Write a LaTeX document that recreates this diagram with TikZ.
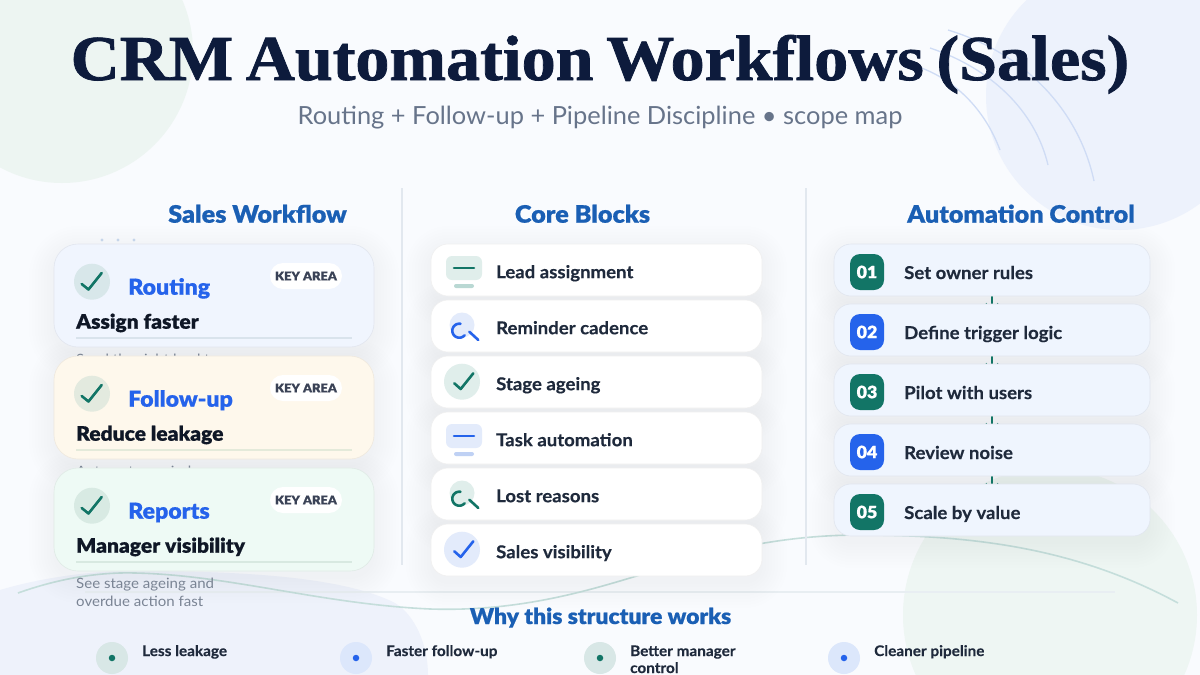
\documentclass[tikz,border=0pt]{standalone}
\usepackage{fontspec}
\setmainfont{Lato}[FakeStretch=1.017]
\newfontfamily\titlef[FakeStretch=1.063,FakeBold=1.2,WordSpace=0.75]{Liberation Serif Bold}
\newfontfamily\blackf[FakeStretch=1.05,FakeBold=.6]{Lato Black}
\newfontfamily\boldf[FakeStretch=1.05,FakeBold=.35]{Lato Bold}
\newfontfamily\descf[FakeStretch=1.06]{Lato}
\usetikzlibrary{arrows.meta,backgrounds}
\definecolor{bgc}{HTML}{F9FBFE}
\definecolor{tlc}{HTML}{EDF5F2}
\definecolor{trc}{HTML}{EDF2FC}
\definecolor{brc}{HTML}{EEF6F3}
\definecolor{blc}{HTML}{EEF2FB}
\definecolor{navy}{HTML}{0D1B3C}
\definecolor{subc}{HTML}{67748A}
\definecolor{headc}{HTML}{1A5FB4}
\definecolor{blu}{HTML}{2563EB}
\definecolor{grn}{HTML}{127566}
\definecolor{inkc}{HTML}{1F2A3C}
\definecolor{darkc}{HTML}{0F1726}
\definecolor{descc}{HTML}{7A8494}
\definecolor{pillc}{HTML}{3A4256}
\definecolor{shcol}{HTML}{1E3A6E}
\definecolor{lgrn}{HTML}{E0EEEB}
\definecolor{lblu}{HTML}{E3EBFB}
\definecolor{mgrn}{HTML}{B9D8D3}
\definecolor{mblu}{HTML}{BFD1F4}
\pgfdeclarelayer{shadowlayer}
\pgfdeclarelayer{connlayer}
\pgfsetlayers{shadowlayer,connlayer,main}
\tikzset{
 cardbox/.style={rectangle,inner sep=0pt,draw=#1!94!black,line width=.6pt,fill=#1},
 lcard/.style={cardbox=#1,minimum width=320pt,minimum height=103pt,rounded corners=24pt},
 mcard/.style={cardbox=white,minimum width=331pt,minimum height=52pt,rounded corners=17pt},
 rcard/.style={cardbox=#1,minimum width=316pt,minimum height=52pt,rounded corners=17pt},
 headtxt/.style={text=headc,font=\blackf\fontsize{24}{27}\selectfont,anchor=base,inner sep=0pt},
 lbl/.style={anchor=base west,inner sep=0pt},
 cattxt/.style={lbl,text=blu,font=\blackf\fontsize{22}{25}\selectfont},
 subtxt/.style={lbl,text=darkc,font=\blackf\fontsize{20}{23}\selectfont},
 desctxt/.style={lbl,text=descc,font=\descf\fontsize{14.2}{18}\selectfont},
 pill/.style={rectangle,rounded corners=13pt,fill=white,minimum width=72pt,minimum height=26pt,inner sep=0pt,text=pillc,font=\blackf\fontsize{12.2}{14}\selectfont},
 midtxt/.style={lbl,text=inkc,font=\boldf\fontsize{17.7}{20}\selectfont},
 badge/.style={rectangle,rounded corners=10pt,minimum width=34pt,minimum height=36pt,inner sep=0pt,text=white,font=\blackf\fontsize{17}{18}\selectfont},
 foot/.style={lbl,text=inkc,font=\boldf\fontsize{14.6}{17}\selectfont},
 disc/.style={circle,inner sep=0pt,minimum size=#1},
 tick/.style={line width=2.6pt,line cap=round,line join=round,draw=#1},
 dbar/.style={line width=2.6pt,line cap=round,draw=#1},
 link/.style={draw=grn,line width=2pt,-{Straight Barb[length=8pt,width=12pt,line width=.8pt]}},
}
\newcommand\softsh[5]{%
 \begin{pgfonlayer}{shadowlayer}
 \foreach \e in {1,4,...,25}{%
  \pgfmathsetmacro\rr{#5+\e}
  \fill[shcol,opacity=.0055,rounded corners=\rr pt]
   ({#1-#3/2-\e},{#2-#4/2-\e+7}) rectangle ({#1+#3/2+\e},{#2+#4/2+\e+7});
 }
 \end{pgfonlayer}}
\newcommand\leftcard[9]{% name, cy offset, colour, disc colour, cat, sub, desc, rule colour, pill name
 \softsh{214}{#2+295.5}{320}{103}{24}
 \node[lcard=#3] (#1) at (214,#2+295.5) {};
 \node[disc=36pt,fill=#4] (#1c) at (92,#2+281.7) {};
 \draw[tick=grn] (81.7,#2+284) -- (88.5,#2+289.5) -- (101.7,#2+273);
 \node[cattxt] (#1t) at (128,#2+294.7) {#5};
 \node[subtxt] (#1s) at (76,#2+328.7) {#6};
 \draw[line width=1.6pt,draw=#8] (76,#2+338) -- (352,#2+338);
 \node[pill] (#9) at (306,#2+276) {KEY AREA};
 \node[desctxt] (#1d) at (76,#2+364) {#7};
}
\newcommand\midcard[3]{%
 \softsh{596.5}{#2}{331}{52}{17}
 \node[mcard] (#1) at (596.5,#2) {};
 \node[midtxt] (#1t) at (496,#2+8.2) {#3};
}
\newcommand\rightcard[5]{%
 \softsh{992}{#2}{316}{52}{17}
 \node[rcard=rightc] (#1) at (992,#2) {};
 \node[badge,fill=#3] (#1b) at (867,#2+2) {#4};
 \node[midtxt] (#1t) at (904,#2+9) {#5};
}
\definecolor{rightc}{HTML}{EFF5FE}
\definecolor{cardA}{HTML}{F0F5FE}
\definecolor{cardB}{HTML}{FEF8EC}
\definecolor{cardC}{HTML}{EEFAF5}
\definecolor{discA}{HTML}{D8E7EA}
\definecolor{discB}{HTML}{E3EADF}
\definecolor{discC}{HTML}{D8EAE3}
\definecolor{ruleA}{HTML}{D9E3EC}
\definecolor{ruleB}{HTML}{E4EADA}
\definecolor{ruleC}{HTML}{D8E9E1}
\definecolor{wave}{HTML}{C5DEDB}
\definecolor{arcc}{HTML}{CFDCF5}
\definecolor{divc}{HTML}{E2E8EF}
\definecolor{footl}{HTML}{E8EEF2}
\definecolor{dotc}{HTML}{C5D5EA}
\definecolor{fdg}{HTML}{D8E7E6}
\definecolor{fdb}{HTML}{DCE7FB}
\begin{document}
\begin{tikzpicture}[x=1pt,y=-1pt]
\useasboundingbox (0,0) rectangle (1200,675);
\begin{pgfonlayer}{shadowlayer}
\fill[bgc] (0,0) rectangle (1200,675);
\begin{scope}
\clip (0,0) rectangle (1200,675);
\fill[tlc] (62,52) circle[radius=131];
\fill[trc] (1120,96) circle[radius=134];
\fill[brc] (1050,615) circle[radius=147];
\fill[blc] (0,590) .. controls (40,578) and (90,571) .. (130,571)
  .. controls (230,571) and (340,575) .. (395,603)
  .. controls (415,615) and (428,645) .. (428,675) -- (0,675) -- cycle;
\end{scope}
\draw[footl,line width=1.5pt] (85,592) -- (1115,592);
\draw[wave,line width=1.6pt] (18,593) .. controls (60,578) and (100,572) .. (135,573)
  .. controls (230,575) and (320,604) .. (430,609)
  .. controls (520,612) and (590,590) .. (640,575)
  .. controls (700,556) and (770,535) .. (860,535)
  .. controls (980,535) and (1080,550) .. (1178,603);
\draw[arcc,line width=1.3pt] (913,65) .. controls (955,78) and (985,110) .. (1000,150);
\draw[arcc,line width=1.3pt] (930,48) .. controls (990,68) and (1035,110) .. (1048,165);
\draw[arcc,line width=1.3pt] (948,30) .. controls (1030,55) and (1080,115) .. (1094,181);
\draw[divc,line width=1.2pt] (402,188) -- (402,565);
\draw[divc,line width=1.2pt] (806,188) -- (806,565);
\end{pgfonlayer}

\node[text=navy,font=\titlef\fontsize{64}{70}\selectfont,anchor=base,inner sep=0pt] (title) at (600,80) {CRM Automation Workflows (Sales)};
\node[text=subc,font=\fontsize{25}{30}\selectfont,anchor=base,inner sep=0pt] (subtitle) at (600,124) {Routing + Follow-up + Pipeline Discipline • scope map};

\node[headtxt] (h1) at (257.5,222.7) {Sales Workflow};
\node[headtxt] (h2) at (582.5,222.7) {Core Blocks};
\node[headtxt] (h3) at (1021,222.7) {Automation Control};

\foreach \px in {102,118,134} \fill[dotc] (\px,240) circle[radius=1.6];

\leftcard{la}{0}{cardA}{discA}{Routing}{Assign faster}{Send the right lead to}{ruleA}{pa}
\leftcard{lb}{112}{cardB}{discB}{Follow-up}{Reduce leakage}{Automate reminders}{ruleB}{pb}
\leftcard{lc}{224}{cardC}{discC}{Reports}{Manager visibility}{See stage ageing and}{ruleC}{pc}
\node[desctxt] (lcd2) at (76,606) {overdue action fast};

\midcard{m1}{270}{Lead assignment}
\midcard{m2}{326}{Reminder cadence}
\midcard{m3}{382}{Stage ageing}
\midcard{m4}{438}{Task automation}
\midcard{m5}{494}{Lost reasons}
\midcard{m6}{550}{Sales visibility}

% icons
\fill[lgrn,rounded corners=6pt] (446,256) rectangle (482,280);
\draw[dbar=grn] (454,268) -- (474,268);
\fill[mgrn,rounded corners=2pt] (454,284) rectangle (474,288);
\fill[lblu] (462,325) circle[radius=12.5];
\draw[tick=blu] plot[smooth,domain=-80:-320,samples=20] ({459.3+7*cos(\x)},{330.7+7*sin(\x)});
\draw[dbar=blu] (469.3,331.7) -- (478.3,340);
\fill[lgrn] (462,381.7) circle[radius=18];
\draw[tick=grn] (454.3,383.3) -- (460.7,389) -- (473.3,373.3);
\fill[lblu,rounded corners=6pt] (446,424) rectangle (482,448);
\draw[dbar=blu] (454,436) -- (474,436);
\fill[mblu,rounded corners=2pt] (454,452) rectangle (474,456);
\fill[lgrn] (462,493) circle[radius=12.5];
\draw[tick=grn] plot[smooth,domain=-80:-320,samples=20] ({459.3+7*cos(\x)},{498.7+7*sin(\x)});
\draw[dbar=grn] (469.3,499.7) -- (478.3,508);
\fill[lblu] (462,549.7) circle[radius=18];
\draw[tick=blu] (454.3,551.3) -- (460.7,557) -- (473.3,541.3);

\rightcard{s1}{270}{grn}{01}{Set owner rules}
\rightcard{s2}{330}{blu}{02}{Define trigger logic}
\rightcard{s3}{390}{grn}{03}{Pilot with users}
\rightcard{s4}{450}{blu}{04}{Review noise}
\rightcard{s5}{510}{grn}{05}{Scale by value}
\begin{pgfonlayer}{connlayer}
\foreach \a/\b in {s1/s2,s2/s3,s3/s4,s4/s5}
 \draw[link] (\a.south) -- ([yshift=-8pt]\b.north);
\end{pgfonlayer}

\node[text=headc,font=\blackf\fontsize{21.8}{24}\selectfont,anchor=base,inner sep=0pt] (why) at (600.5,624) {Why this structure works};

\node[disc=32pt,fill=fdg] (f1) at (112,658) {};
\node[disc=6.5pt,fill=grn] (f1d) at (112,658) {};
\node[foot] (f1t) at (142,656) {Less leakage};
\node[disc=32pt,fill=fdb] (f2) at (356,658) {};
\node[disc=6.5pt,fill=blu] (f2d) at (356,658) {};
\node[foot] (f2t) at (386,656) {Faster follow-up};
\node[disc=32pt,fill=fdg] (f3) at (600,658) {};
\node[disc=6.5pt,fill=grn] (f3d) at (600,658) {};
\node[foot] (f3t) at (630,656) {Better manager};
\node[foot] (f3u) at (630,673) {control};
\node[disc=32pt,fill=fdb] (f4) at (844,658) {};
\node[disc=6.5pt,fill=blu] (f4d) at (844,658) {};
\node[foot] (f4t) at (874,656) {Cleaner pipeline};
\end{tikzpicture}
\end{document}
